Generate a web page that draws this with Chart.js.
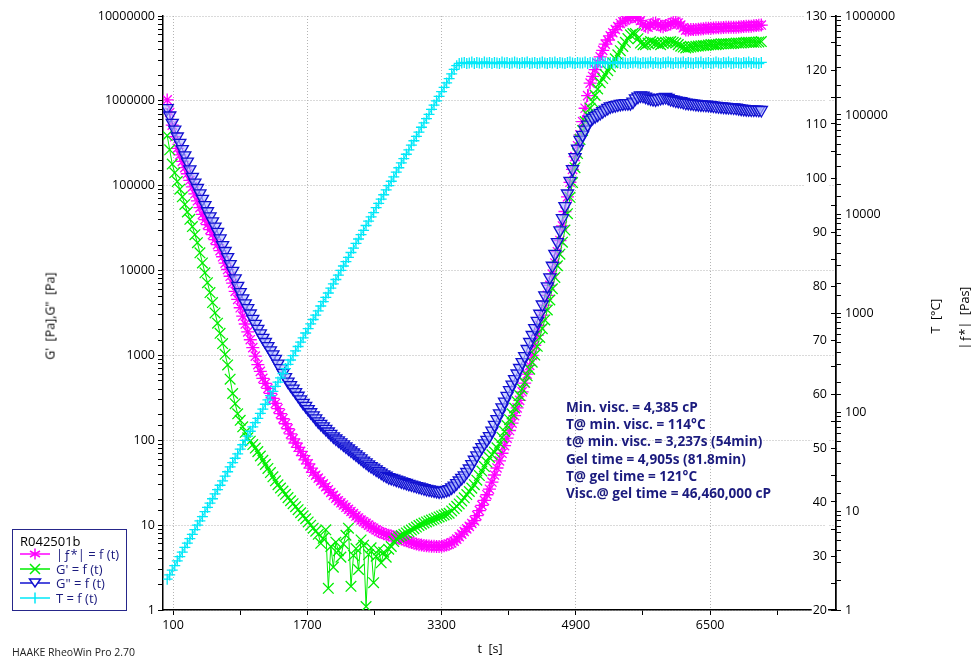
<!DOCTYPE html>
<html>
<head>
<meta charset="utf-8">
<title>R042501b cure profile</title>
<script src="https://cdn.jsdelivr.net/npm/chart.js@4.4.1/dist/chart.umd.min.js"></script>
<style>
  html, body { margin: 0; padding: 0; background: #fff; }
  #wrap { position: relative; width: 971px; height: 657px; overflow: hidden; font-family: "Open Sans", sans-serif; color: #000; }
  #chart { position: absolute; left: 0; top: 0; }
  .title { position: absolute; font-size: 12.5px; white-space: pre; transform: translate(-50%, -50%); }
  .rot { transform: translate(-50%, -50%) rotate(-90deg); }
  #notes { position: absolute; left: 566px; top: 398px; font-size: 13.6px; font-weight: bold; color: #1b1b7e; line-height: 17.2px; white-space: pre; }
  #legend { position: absolute; left: 12px; top: 529px; width: 113px; height: 80px; border: 1px solid #26268a; font-size: 13px; }
  #legend .head { position: absolute; left: 7px; top: 2px; }
  #legend .row { position: absolute; left: 7px; height: 14px; line-height: 14px; color: #1b1b7e; white-space: pre; }
  #legend svg { position: absolute; left: 0; top: 1px; }
  #legend .row span { position: absolute; left: 36px; top: 0; }
  #footer { position: absolute; left: 12px; top: 645px; font-size: 10.5px; color: #222; white-space: pre; }
</style>
</head>
<body>
<div id="wrap">
  <canvas id="chart" width="971" height="657"></canvas>
  <div class="title rot" style="left:50px; top:316px;">G'  [Pa],G"  [Pa]</div>
  <div class="title" style="left:490px; top:648px;">t  [s]</div>
  <div class="title rot" style="left:935px; top:316px;">T  [°C]</div>
  <div class="title rot" style="left:964px; top:318px;">|ƒ*|  [Pas]</div>
  <div id="notes">Min. visc. = 4,385 cP
T@ min. visc. = 114°C
t@ min. visc. = 3,237s (54min)
Gel time = 4,905s (81.8min)
T@ gel time = 121°C
Visc.@ gel time = 46,460,000 cP</div>
  <div id="legend">
    <div class="head">R042501b</div>
    <div class="row" style="top:17px;">
      <svg width="30" height="12"><line x1="0" y1="6" x2="30" y2="6" stroke="#ff00ff" stroke-width="1.5"/><path d="M15 0.5V11.5M10 3L20 9M10 9L20 3" stroke="#ff00ff" stroke-width="1.5"/></svg>
      <span>|ƒ*| = f (t)</span>
    </div>
    <div class="row" style="top:32px;">
      <svg width="30" height="12"><line x1="0" y1="6" x2="30" y2="6" stroke="#00ee00" stroke-width="1.5"/><path d="M10 1L20 11M10 11L20 1" stroke="#00ee00" stroke-width="1.5"/></svg>
      <span>G' = f (t)</span>
    </div>
    <div class="row" style="top:46px;">
      <svg width="30" height="12"><line x1="0" y1="6" x2="30" y2="6" stroke="#1010d0" stroke-width="1.5"/><path d="M9.5 2H20.5L15 10Z" fill="#fff" stroke="#1010d0" stroke-width="1.5"/></svg>
      <span>G" = f (t)</span>
    </div>
    <div class="row" style="top:61px;">
      <svg width="30" height="12"><line x1="0" y1="6" x2="30" y2="6" stroke="#00e8f8" stroke-width="1.5"/><path d="M15 0.5V11.5" stroke="#00e8f8" stroke-width="1.5"/></svg>
      <span>T = f (t)</span>
    </div>
  </div>
  <div id="footer">HAAKE RheoWin Pro 2.70</div>
</div>
<script>
// time of each measurement, s
const times = [
  30, 60, 90, 120, 150, 180, 210, 240, 270, 300,
  330, 360, 390, 420, 450, 480, 510, 540, 570, 600,
  630, 660, 690, 720, 750, 780, 810, 840, 870, 900,
  930, 960, 990, 1020, 1050, 1080, 1110, 1140, 1170, 1200,
  1230, 1260, 1290, 1320, 1350, 1380, 1410, 1440, 1470, 1500,
  1530, 1560, 1590, 1620, 1650, 1680, 1710, 1740, 1770, 1800,
  1830, 1860, 1890, 1920, 1950, 1980, 2010, 2040, 2070, 2100,
  2130, 2160, 2190, 2220, 2250, 2280, 2310, 2340, 2370, 2400,
  2430, 2460, 2490, 2520, 2550, 2580, 2610, 2640, 2670, 2700,
  2730, 2760, 2790, 2820, 2850, 2880, 2910, 2940, 2970, 3000,
  3030, 3060, 3090, 3120, 3150, 3180, 3210, 3240, 3270, 3300,
  3330, 3360, 3390, 3420, 3450, 3480, 3510, 3540, 3570, 3600,
  3630, 3660, 3690, 3720, 3750, 3780, 3810, 3840, 3870, 3900,
  3930, 3960, 3990, 4020, 4050, 4080, 4110, 4140, 4170, 4200,
  4230, 4260, 4290, 4320, 4350, 4380, 4410, 4440, 4470, 4500,
  4530, 4560, 4590, 4620, 4650, 4680, 4710, 4740, 4770, 4800,
  4830, 4860, 4890, 4920, 4950, 4980, 5010, 5040, 5070, 5100,
  5130, 5160, 5190, 5220, 5250, 5280, 5310, 5340, 5370, 5400,
  5430, 5460, 5490, 5520, 5550, 5580, 5610, 5640, 5670, 5700,
  5730, 5760, 5790, 5820, 5850, 5880, 5910, 5940, 5970, 6000,
  6030, 6060, 6090, 6120, 6150, 6180, 6210, 6240, 6270, 6300,
  6330, 6360, 6390, 6420, 6450, 6480, 6510, 6540, 6570, 6600,
  6630, 6660, 6690, 6720, 6750, 6780, 6810, 6840, 6870, 6900,
  6930, 6960, 6990, 7020, 7050, 7080, 7110
];

// |eta*| in Pas (right log axis)
const etaStar = [
  142000, 106000, 79000, 60300, 46000, 39500, 34000, 29400, 25500, 21900,
  18800, 16000, 13600, 11600, 9900, 8790, 7800, 6950, 6200, 5510,
  4900, 4260, 3700, 3190, 2750, 2350, 2000, 1655, 1370, 1130,
  931, 774, 644, 537, 447, 367, 301, 257, 219, 195,
  173, 154, 137, 122, 108, 96.1, 85.5, 76.1, 67.7, 60.2,
  53.6, 48.6, 44, 40, 36.3, 32.9, 29.9, 27.1, 24.6, 23,
  21.5, 20.1, 18.8, 17.6, 16.4, 15.4, 14.4, 13.5, 12.7, 12.1,
  11.5, 10.9, 10.4, 9.9, 9.4, 8.9, 8.5, 8.1, 7.8, 7.5,
  7.2, 6.9, 6.7, 6.45, 6.2, 6.05, 5.9, 5.8, 5.7, 5.6,
  5.5, 5.4, 5.3, 5.2, 5.1, 5.0, 4.9, 4.81, 4.73, 4.65,
  4.57, 4.53, 4.49, 4.46, 4.43, 4.41, 4.40, 4.385, 4.39, 4.41,
  4.45, 4.53, 4.62, 4.77, 4.95, 5.2, 5.5, 5.84, 6.2, 6.59,
  7.0, 7.48, 8.0, 8.99, 10.1, 11.4, 12.8, 14.6, 16.6, 19.6,
  23.1, 27.2, 32.1, 38.3, 45.7, 54.5, 65, 77.3, 92, 110,
  131, 160, 196, 241, 296, 373, 471, 595, 752, 950,
  1200, 1510, 1900, 2470, 3200, 4160, 5400, 7570, 10600, 14900,
  20900, 28200, 38000, 48900, 63000, 85900, 117000, 157000, 210000, 245000,
  287000, 333000, 387000, 449000, 520000, 572000, 630000, 678000, 730000, 783000,
  840000, 874000, 910000, 940000, 970000, 990000, 980000, 950000, 900000, 830000,
  790000, 770000, 810000, 840000, 850000, 820000, 790000, 780000, 800000, 820000,
  830000, 860000, 870000, 850000, 810000, 760000, 720000, 720000, 730000, 730000,
  730000, 735000, 740000, 745000, 750000, 750000, 750000, 755000, 760000, 760000,
  760000, 765000, 770000, 770000, 770000, 770000, 770000, 775000, 780000, 785000,
  790000, 790000, 790000, 795000, 800000, 805000, 810000
];

// G' in Pa
const gPrime = [
  390000, 265000, 180000, 142000, 112000, 91000, 74000, 60200, 49000, 40200,
  33000, 26500, 21300, 16200, 12300, 9410, 7200, 5500, 4200, 3170,
  2400, 1820, 1380, 1030, 773, 525, 356, 270, 205, 172,
  144, 124, 107, 97.6, 89, 80.9, 73.5, 65.3, 58, 52,
  46.6, 41.6, 37.1, 33.3, 29.9, 27.4, 25.2, 23.1, 21.1, 19.4,
  17.9, 16.5, 15.2, 14.0, 12.9, 11.9, 10.9, 10.0, 9.2, 8.5,
  7.8, 6.1, 7.0, 8.8, 1.8, 5.6, 3.2, 6.3, 5.0, 4.2,
  6.0, 7.6, 9.2, 1.9, 4.4, 5.3, 3.0, 6.7, 5.8, 1.1,
  4.5, 5.4, 2.1, 4.3, 5.1, 3.6, 4.8, 4.2, 5.2, 5.6,
  6.4, 6.9, 7.3, 7.55, 7.8, 8.1, 8.4, 8.75, 9.1, 9.5,
  9.9, 10.25, 10.6, 10.9, 11.2, 11.5, 11.8, 12.15, 12.5, 12.85,
  13.2, 13.5, 13.8, 14.7, 15.6, 16.7, 17.8, 19.3, 21, 22.9,
  24.9, 27.3, 30, 33.9, 38.4, 43.4, 49, 55.4, 62.7, 67.5,
  72.6, 81.7, 92, 108, 127, 149, 175, 205, 240, 284,
  337, 403, 482, 575, 687, 833, 1010, 1280, 1630, 2070,
  2620, 3430, 4500, 6110, 8300, 11400, 15600, 21600, 30000, 46800,
  73000, 109000, 163000, 239000, 350000, 447000, 570000, 684000, 820000, 975000,
  1160000, 1380000, 1640000, 1830000, 2040000, 2270000, 2530000, 2810000, 3130000, 3490000,
  3900000, 4370000, 4900000, 5420000, 6000000, 6200000, 6200000, 5400000, 4800000, 4600000,
  4600000, 4800000, 5000000, 4900000, 4800000, 4700000, 4600000, 4750000, 4900000, 4950000,
  5000000, 4900000, 4800000, 4600000, 4400000, 4300000, 4200000, 4250000, 4300000, 4350000,
  4400000, 4420000, 4450000, 4480000, 4500000, 4550000, 4600000, 4600000, 4600000, 4650000,
  4700000, 4700000, 4700000, 4700000, 4700000, 4750000, 4800000, 4800000, 4800000, 4850000,
  4900000, 4900000, 4900000, 4900000, 4900000, 4950000, 5000000
];

// G" in Pa
const gDouble = [
  820000, 672000, 550000, 457000, 380000, 320000, 270000, 228000, 192000, 156000,
  127000, 109000, 94000, 81100, 70000, 59200, 50000, 43600, 38000, 33000,
  28600, 23900, 20000, 17000, 14400, 11900, 9900, 8080, 6600, 5570,
  4700, 4110, 3600, 3120, 2700, 2360, 2060, 1820, 1610, 1440,
  1290, 1150, 1030, 909, 802, 707, 624, 554, 492, 447,
  406, 369, 335, 304, 276, 254, 233, 214, 197, 181,
  167, 156, 146, 136, 127, 119, 111, 105, 99.5, 94.3,
  89.3, 84.5, 80, 75.8, 71.8, 68.1, 64.6, 61.1, 57.7, 54.8,
  52, 49.7, 47.5, 45.4, 43.4, 41.5, 39.6, 38.2, 36.8, 36.0,
  35.2, 34.4, 33.6, 32.8, 32.1, 31.4, 30.7, 30.1, 29.5, 28.9,
  28.4, 27.8, 27.2, 26.7, 26.3, 26.0, 25.7, 25.3, 25.0, 25.1,
  25.4, 26.0, 26.6, 27.9, 29.2, 31.3, 33.6, 36.0, 38.5, 42.3,
  46.5, 52.4, 59, 66.4, 74.8, 82.9, 91.8, 101, 112, 130,
  152, 178, 208, 244, 286, 334, 389, 452, 526, 612,
  711, 836, 982, 1190, 1440, 1740, 2100, 2550, 3100, 3980,
  5100, 6510, 8300, 11400, 15700, 21600, 29800, 41400, 57500, 81000,
  114000, 157000, 217000, 274000, 347000, 398000, 457000, 524000, 600000, 629000,
  660000, 689000, 720000, 754000, 790000, 824000, 860000, 875000, 890000, 905000,
  920000, 930000, 940000, 940000, 940000, 980000, 1070000, 1120000, 1160000, 1150000,
  1120000, 1090000, 1070000, 1050000, 1040000, 1060000, 1080000, 1100000, 1110000, 1080000,
  1050000, 1030000, 1010000, 1000000, 990000, 970000, 950000, 945000, 940000, 930000,
  920000, 915000, 910000, 905000, 900000, 895000, 890000, 880000, 870000, 865000,
  860000, 855000, 850000, 845000, 840000, 835000, 830000, 820000, 810000, 805000,
  800000, 795000, 790000, 790000, 790000, 785000, 780000
];

// temperature in °C
const tempC = [
  25.7, 26.5, 27.4, 28.2, 29.1, 29.9, 30.7, 31.6, 32.4, 33.2,
  34.0, 34.9, 35.7, 36.5, 37.3, 38.2, 39.0, 39.8, 40.6, 41.5,
  42.3, 43.1, 43.9, 44.8, 45.6, 46.5, 47.3, 48.1, 48.9, 49.8,
  50.6, 51.4, 52.2, 53.1, 53.9, 54.7, 55.5, 56.4, 57.2, 58.1,
  58.9, 59.7, 60.5, 61.4, 62.2, 63.0, 63.8, 64.7, 65.5, 66.3,
  67.1, 68.0, 68.8, 69.6, 70.4, 71.3, 72.1, 73.0, 73.8, 74.6,
  75.4, 76.3, 77.1, 77.9, 78.7, 79.6, 80.4, 81.2, 82.0, 82.9,
  83.7, 84.5, 85.3, 86.2, 87.0, 87.9, 88.7, 89.5, 90.3, 91.2,
  92.0, 92.8, 93.6, 94.5, 95.3, 96.1, 96.9, 97.8, 98.6, 99.4,
  100.2, 101.1, 101.9, 102.8, 103.6, 104.4, 105.2, 106.1, 106.9, 107.7,
  108.5, 109.4, 110.2, 111.0, 111.8, 112.7, 113.5, 114.3, 115.1, 116.0,
  116.8, 117.6, 118.4, 119.3, 120.1, 120.8, 121.2, 121.3, 121.4, 121.2,
  121.3, 121.5, 121.2, 121.4, 121.3, 121.2, 121.5, 121.3, 121.4, 121.2,
  121.4, 121.3, 121.2, 121.5, 121.3, 121.4, 121.2, 121.3, 121.5, 121.3,
  121.2, 121.4, 121.3, 121.5, 121.2, 121.3, 121.4, 121.2, 121.3, 121.5,
  121.3, 121.2, 121.4, 121.3, 121.5, 121.2, 121.4, 121.3, 121.2, 121.4,
  121.5, 121.3, 121.2, 121.4, 121.3, 121.3, 121.5, 121.2, 121.4, 121.3,
  121.2, 121.4, 121.3, 121.5, 121.3, 121.2, 121.4, 121.3, 121.3, 121.5,
  121.2, 121.4, 121.3, 121.2, 121.4, 121.3, 121.5, 121.3, 121.2, 121.4,
  121.3, 121.3, 121.5, 121.2, 121.4, 121.3, 121.2, 121.4, 121.3, 121.5,
  121.3, 121.2, 121.4, 121.3, 121.3, 121.5, 121.2, 121.4, 121.3, 121.2,
  121.4, 121.3, 121.5, 121.2, 121.3, 121.4, 121.2, 121.3, 121.5, 121.3,
  121.2, 121.4, 121.3, 121.5, 121.2, 121.3, 121.4, 121.3, 121.2, 121.4,
  121.3, 121.5, 121.2, 121.4, 121.3, 121.2, 121.4
];

// x axis ticks (every second one labelled)
const xTicks = [100, 900, 1700, 2500, 3300, 4100, 4900, 5700, 6500, 7300];

const MAGENTA = '#ff00ff';
const GREEN = '#00ee00';
const BLUE = '#1010d0';
const CYAN = '#00e8f8';
const GRID = '#b4b4b4';
const NONE = 'rgba(0,0,0,0)';

Chart.defaults.font.family = '"Open Sans", sans-serif';
Chart.defaults.font.size = 12.5;
Chart.defaults.color = '#000';

const toPoints = vals => vals.map((v, i) => ({ x: times[i], y: v }));
const isDecade = v => {
  const l = Math.log10(v);
  return Math.abs(l - Math.round(l)) < 1e-6;
};
const decadeLabel = v => (isDecade(v) ? String(Math.round(v)) : '');

function series(label, vals, axis, color, style, extra) {
  return Object.assign({
    label: label,
    data: toPoints(vals),
    yAxisID: axis,
    borderColor: color,
    backgroundColor: color,
    borderWidth: 1,
    pointStyle: style,
    pointRadius: 5,
    pointBorderWidth: 1.3,
    pointBorderColor: color,
    pointBackgroundColor: color,
    tension: 0
  }, extra);
}

new Chart(document.getElementById('chart'), {
  type: 'line',
  data: {
    datasets: [
      series('T = f (t)', tempC, 'yT', CYAN, 'cross', { order: 1, pointRadius: 5.5 }),
      series('G" = f (t)', gDouble, 'y', BLUE, 'triangle',
        { order: 2, pointRadius: 7, pointRotation: 180, pointBackgroundColor: 'rgba(175,185,255,0.6)' }),
      series("G' = f (t)", gPrime, 'y', GREEN, 'crossRot', { order: 3, pointRadius: 7.5 }),
      series('|ƒ*| = f (t)', etaStar, 'yEta', MAGENTA, 'star', { order: 4, pointRadius: 6.5 })
    ]
  },
  options: {
    responsive: false,
    animation: false,
    events: [],
    layout: { padding: { left: 0, right: 0, top: 16, bottom: 0 } },
    plugins: { legend: { display: false }, tooltip: { enabled: false } },
    scales: {
      x: {
        type: 'linear',
        position: 'bottom',
        min: -20,
        max: 8000,
        afterBuildTicks: s => { s.ticks = xTicks.map(v => ({ value: v })); },
        afterFit: s => { s.height = 47; },
        ticks: {
          autoSkip: false,
          maxRotation: 0,
          padding: 3,
          callback: (v, i) => (i % 2 === 0 ? String(v) : '')
        },
        grid: {
          color: c => (c.index % 2 === 0 ? GRID : NONE),
          tickColor: '#000',
          tickLength: 5,
          tickBorderDash: []
        },
        border: { color: '#000', width: 1.5, dash: [1, 2] }
      },
      y: {
        type: 'logarithmic',
        position: 'left',
        min: 1,
        max: 10000000,
        afterFit: s => { s.width = 163; },
        ticks: { autoSkip: false, padding: 3, callback: v => decadeLabel(v) },
        grid: {
          color: c => (c.tick && isDecade(c.tick.value) ? GRID : NONE),
          tickColor: '#000',
          tickLength: 5,
          tickBorderDash: []
        },
        border: { color: '#000', width: 1.5, dash: [1, 2] }
      },
      yT: {
        type: 'linear',
        position: 'right',
        weight: 1,
        min: 20,
        max: 130,
        afterFit: s => { s.width = 0; },
        ticks: {
          stepSize: 5,
          autoSkip: false,
          mirror: true,
          padding: -9,
          showLabelBackdrop: true,
          backdropColor: '#fff',
          backdropPadding: 1,
          callback: v => (v % 10 === 0 ? String(v) : '')
        },
        grid: { drawOnChartArea: false, tickColor: '#000', tickLength: -5 },
        border: { color: '#000', width: 1.5 }
      },
      yEta: {
        type: 'logarithmic',
        position: 'right',
        weight: 2,
        min: 1,
        max: 1000000,
        afterFit: s => { s.width = 135; },
        ticks: { autoSkip: false, padding: 4, callback: v => decadeLabel(v) },
        grid: { drawOnChartArea: false, tickColor: '#000', tickLength: 5 },
        border: { color: '#000', width: 1.5 }
      }
    }
  }
});
</script>
</body>
</html>
